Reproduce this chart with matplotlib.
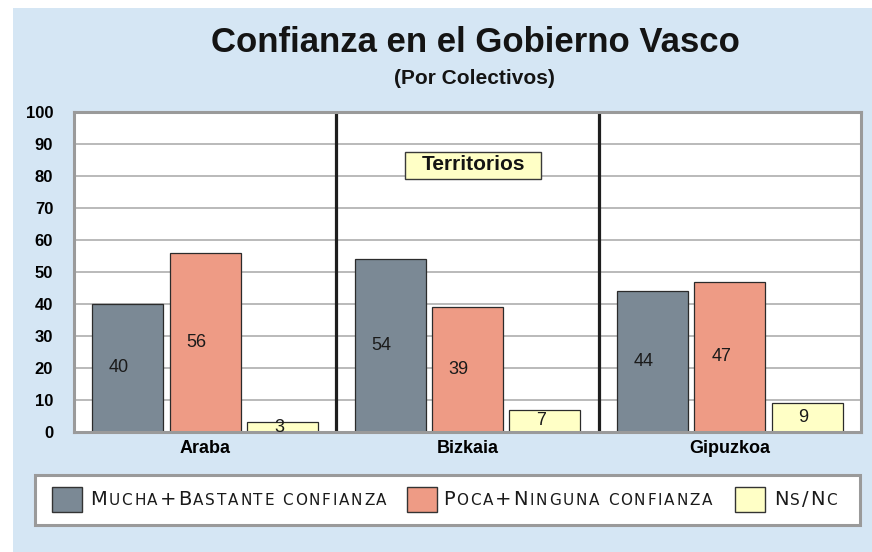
import matplotlib
matplotlib.use('Agg')
import matplotlib.pyplot as plt
from matplotlib.patches import Rectangle

# Data
territorios = ['Araba', 'Bizkaia', 'Gipuzkoa']
mucha_bastante = [40, 54, 44]
poca_ninguna = [56, 39, 47]
ns_nc = [3, 7, 9]

series = [mucha_bastante, poca_ninguna, ns_nc]
series_labels = ['Mucha+Bastante confianza', 'Poca+Ninguna confianza', 'Ns/Nc']
series_colors = ['#7b8995', '#ee9b85', '#ffffc6']
yticks = list(range(0, 101, 10))

W, H = 872, 552
fig = plt.figure(figsize=(W / 100, H / 100), dpi=100)
fig.patch.set_facecolor('white')
plt.rcParams['font.family'] = ['Liberation Sans', 'DejaVu Sans']

# background (pixel coords)
bg = fig.add_axes([0, 0, 1, 1], zorder=0)
bg.set_xlim(0, W)
bg.set_ylim(H, 0)
bg.axis('off')
bg.add_patch(Rectangle((13, 8), W - 13, H - 8, facecolor='#d5e6f4', edgecolor='none'))

# main plot
ax = fig.add_axes([74 / W, (H - 432) / H, (861 - 74) / W, (432 - 112) / H], zorder=1)
ax.set_facecolor('white')
ax.set_axisbelow(True)
ax.yaxis.grid(True, color='#b4b4b4', linewidth=1.3)

offsets = [-0.295, 0.0, 0.295]
width = 0.27
for vals, off, color in zip(series, offsets, series_colors):
    xs = [i + off for i in range(len(territorios))]
    ax.bar(xs, vals, width=width, color=color, edgecolor='#2b2b2b', linewidth=0.9, zorder=2)
    for x, v in zip(xs, vals):
        ax.text(x + 0.005, v / 2, str(v), ha='right', va='center',
                fontsize=13, color='#1a1a1a', zorder=3)

for sep in [0.5, 1.5]:
    ax.axvline(sep, color='#1e1e1e', linewidth=2.3, zorder=2)

ax.set_xlim(-0.5, 2.5)
ax.set_ylim(0, 100)
ax.set_yticks(yticks)
ax.set_yticklabels([str(t) for t in yticks], fontsize=12, fontweight='bold')
ax.set_xticks(range(len(territorios)))
ax.set_xticklabels(territorios, fontsize=13, fontweight='bold')
ax.tick_params(axis='y', length=0, pad=15)
ax.tick_params(axis='x', length=0, pad=6)
for s in ax.spines.values():
    s.set_color('#9a9a9a')
    s.set_linewidth(2.2)

# overlay (pixel coords)
ov = fig.add_axes([0, 0, 1, 1], zorder=3)
ov.set_xlim(0, W)
ov.set_ylim(H, 0)
ov.axis('off')
ov.patch.set_alpha(0)

ov.text(475, 42, 'Confianza en el Gobierno Vasco', ha='center', va='center',
        fontsize=25, fontweight='bold', color='#141414')
ov.text(474, 78, '(Por Colectivos)', ha='center', va='center',
        fontsize=15, fontweight='bold', color='#141414')

ov.add_patch(Rectangle((405, 152), 136, 27, facecolor='#ffffc6', edgecolor='#3a3a3a', linewidth=1))
ov.text(473, 165, 'Territorios', ha='center', va='center', fontsize=15,
        fontweight='bold', color='#141414')

# legend
ov.add_patch(Rectangle((35, 475), 825, 50, facecolor='white', edgecolor='#9a9a9a', linewidth=2.2))
legend_patch_x = [52, 407, 735]
legend_text_x = [90, 443, 774]
renderer = fig.canvas.get_renderer()


# fake small caps, letter by letter with some tracking
def small_caps(x, y, text, big=14, small=11, track=1.8):
    for ch in text:
        size = small if (ch.islower() or ch == ' ') else big
        if ch == ' ':
            x += 0.32 * small * 100 / 72 + track
            continue
        t = ov.text(x, y, ch.upper(), ha='left', va='baseline', fontsize=size,
                    family='DejaVu Sans', color='#1a1a1a')
        x += t.get_window_extent(renderer).width + track


for label, color, px, tx in zip(series_labels, series_colors, legend_patch_x, legend_text_x):
    ov.add_patch(Rectangle((px, 487), 30, 25, facecolor=color, edgecolor='#333333', linewidth=1))
    small_caps(tx, 505, label)

fig.savefig('out.png', dpi=100)
